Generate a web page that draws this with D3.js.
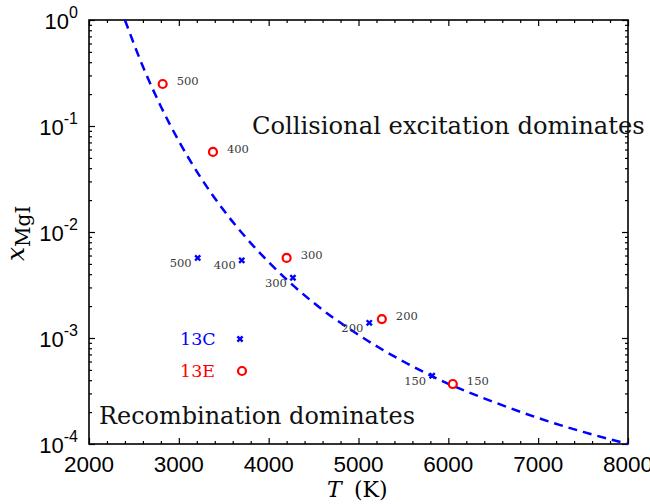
<!DOCTYPE html>
<html><head><meta charset="utf-8">
<script src="https://cdn.jsdelivr.net/npm/d3@7"></script>
<style>body{margin:0;background:#fff}</style>
</head><body><svg id="c" width="650" height="504"></svg>
<script>
// Boundary curve (dashed)
const curveT = [2400, 2600, 2800, 3000, 3250, 3500, 3750, 4000, 4500, 5000, 5500, 6000, 6500, 7000, 7500, 8000];
const curveX = [1.0, 0.364, 0.153, 0.072, 0.032, 0.016, 0.0088, 0.0052, 0.00215, 0.00107, 0.0006, 0.00037, 0.00025, 0.000176, 0.00013, 0.0001];
// Series 13E (red circles)
const e13Temp = [2820, 3380, 4200, 5260, 6050];
const e13X = [0.249, 0.0569, 0.00569, 0.00151, 0.000368];
const e13Lab = ["500", "400", "300", "200", "150"];
// Series 13C (blue crosses)
const c13Temp = [3210, 3700, 4270, 5120, 5820];
const c13X = [0.0057, 0.0054, 0.0037, 0.00139, 0.00044];
const c13Lab = ["500", "400", "300", "200", "150"];
// Ticks
const xTicks = [2000, 3000, 4000, 5000, 6000, 7000, 8000];
const yTickExp = [0, -1, -2, -3, -4];

const svg = d3.select("#c");
const L = 89, R = 628, T = 20, B = 444;
const x = d3.scaleLinear().domain([2000, 8000]).range([L, R]);
const y = d3.scaleLog().domain([1e-4, 1]).range([B, T]);

const serif = "'DejaVu Serif', serif";
const sans = "'Liberation Sans', Arial, sans-serif";

// minor ticks
const xMinor = d3.range(2000, 8001, 200).filter(v => v % 1000 !== 0);
const yMinor = [];
for (let e = -4; e < 0; e++) for (let k = 2; k <= 9; k++) yMinor.push(k * Math.pow(10, e));
const yMajor = yTickExp.map(e => Math.pow(10, e));

function styleAxis(g) {
  g.select(".domain").remove();
  g.selectAll("line").attr("stroke", "#000").attr("stroke-width", 1.2);
  g.selectAll("text").remove();
}
svg.append("g").attr("transform", `translate(0,${B})`).call(d3.axisBottom(x).tickValues(xTicks).tickSize(-6)).call(styleAxis);
svg.append("g").attr("transform", `translate(0,${B})`).call(d3.axisBottom(x).tickValues(xMinor).tickSize(-3)).call(styleAxis);
svg.append("g").attr("transform", `translate(0,${T})`).call(d3.axisTop(x).tickValues(xTicks).tickSize(-6)).call(styleAxis);
svg.append("g").attr("transform", `translate(0,${T})`).call(d3.axisTop(x).tickValues(xMinor).tickSize(-3)).call(styleAxis);
svg.append("g").attr("transform", `translate(${L},0)`).call(d3.axisLeft(y).tickValues(yMajor).tickSize(-6)).call(styleAxis);
svg.append("g").attr("transform", `translate(${L},0)`).call(d3.axisLeft(y).tickValues(yMinor).tickSize(-3)).call(styleAxis);
svg.append("g").attr("transform", `translate(${R},0)`).call(d3.axisRight(y).tickValues(yMajor).tickSize(-6)).call(styleAxis);
svg.append("g").attr("transform", `translate(${R},0)`).call(d3.axisRight(y).tickValues(yMinor).tickSize(-3)).call(styleAxis);

// box
svg.append("rect").attr("x", L).attr("y", T).attr("width", R - L).attr("height", B - T)
  .attr("fill", "none").attr("stroke", "#000").attr("stroke-width", 1.6);

// x tick labels
svg.append("g").selectAll("text").data(xTicks).join("text")
  .attr("x", d => x(d)).attr("y", B + 28).attr("text-anchor", "middle")
  .attr("font-family", sans).attr("font-size", 22.5).text(d => d);

// y tick labels
const yl = svg.append("g").selectAll("text").data(yTickExp).join("text")
  .attr("x", 78).attr("y", d => y(Math.pow(10, d)) + 9).attr("text-anchor", "end")
  .attr("font-family", sans).attr("font-size", 22);
yl.append("tspan").text("10");
yl.append("tspan").attr("dy", -11).attr("font-size", 16).text(d => d);

// curve
const line = d3.line().x((d, i) => x(curveT[i])).y((d, i) => y(curveX[i])).curve(d3.curveMonotoneX);
svg.append("path").datum(curveT).attr("d", line).attr("fill", "none")
  .attr("stroke", "#0000ff").attr("stroke-width", 2.5).attr("stroke-dasharray", "9,6");

// 13C crosses
const cross = (cx, cy, s) => `M${cx - s},${cy - s}L${cx + s},${cy + s}M${cx - s},${cy + s}L${cx + s},${cy - s}`;
svg.append("g").selectAll("path").data(c13Temp).join("path")
  .attr("d", (d, i) => cross(x(d), y(c13X[i]), 2.6))
  .attr("stroke", "#0000ff").attr("stroke-width", 2.4).attr("fill", "none");
svg.append("g").selectAll("text").data(c13Temp).join("text")
  .attr("x", (d) => x(d) - 6).attr("y", (d, i) => y(c13X[i]) + 9).attr("text-anchor", "end")
  .attr("font-family", serif).attr("font-size", 11.5).attr("fill", "#3a3a3a").text((d, i) => c13Lab[i]);

// 13E circles
svg.append("g").selectAll("circle").data(e13Temp).join("circle")
  .attr("cx", d => x(d)).attr("cy", (d, i) => y(e13X[i])).attr("r", 4)
  .attr("fill", "#fff").attr("stroke", "#ff0000").attr("stroke-width", 2.2);
svg.append("g").selectAll("text").data(e13Temp).join("text")
  .attr("x", (d) => x(d) + 14).attr("y", (d, i) => y(e13X[i]) + 1)
  .attr("font-family", serif).attr("font-size", 11.5).attr("fill", "#3a3a3a").text((d, i) => e13Lab[i]);

// legend
svg.append("text").attr("x", 180).attr("y", 345).attr("font-family", serif).attr("font-size", 17.5)
  .attr("fill", "#0000ff").text("13C");
svg.append("path").attr("d", cross(240, 339, 2.6)).attr("stroke", "#0000ff").attr("stroke-width", 2.4);
svg.append("text").attr("x", 180).attr("y", 377).attr("font-family", serif).attr("font-size", 17.5)
  .attr("fill", "#ff0000").text("13E");
svg.append("circle").attr("cx", 242).attr("cy", 371).attr("r", 4).attr("fill", "#fff")
  .attr("stroke", "#ff0000").attr("stroke-width", 2.2);

// annotations (fit to measured widths)
function fitText(sel, target) {
  const fs = +sel.attr("font-size");
  const len = sel.node().getComputedTextLength();
  sel.attr("font-size", fs * target / len);
}
const a1 = svg.append("text").attr("x", 252).attr("y", 134).attr("font-family", serif)
  .attr("font-size", 24).attr("fill", "#111").text("Collisional excitation dominates");
fitText(a1, 393);
const a2 = svg.append("text").attr("x", 99).attr("y", 424).attr("font-family", serif)
  .attr("font-size", 24).attr("fill", "#111").text("Recombination dominates");
fitText(a2, 316);

// axis titles
const xt = svg.append("text").attr("x", 327).attr("y", 497).attr("font-family", serif).attr("font-size", 22);
xt.append("tspan").attr("font-style", "italic").text("T");
xt.append("tspan").attr("x", 354).text("(K)");

const ytl = svg.append("text").attr("transform", "translate(24,261) rotate(-90)")
  .attr("font-family", serif).attr("font-size", 25);
ytl.append("tspan").attr("font-style", "italic").text("x");
ytl.append("tspan").attr("dy", 6).attr("font-size", 20).text("MgI");
</script></body></html>
